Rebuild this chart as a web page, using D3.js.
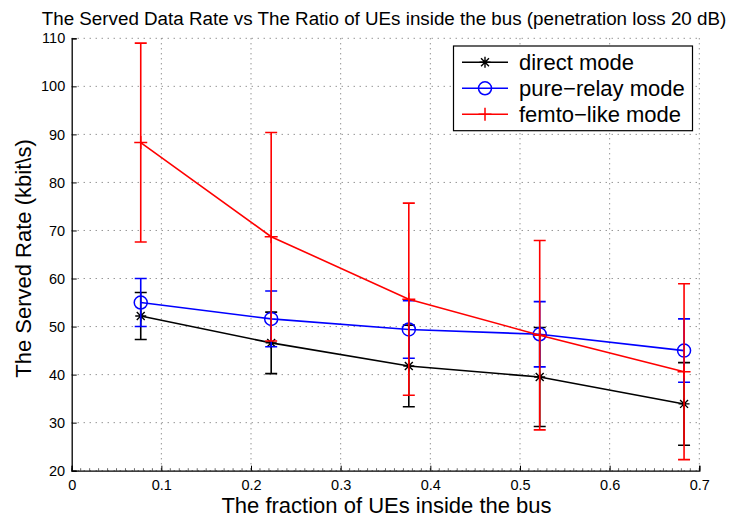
<!DOCTYPE html>
<html>
<head>
<meta charset="utf-8">
<script src="https://cdn.jsdelivr.net/npm/d3@7"></script>
<style>
  html, body { margin: 0; padding: 0; background: #fff; }
  svg { display: block; font-family: "Liberation Sans", Arial, Helvetica, sans-serif; }
</style>
</head>
<body>
<svg id="chart" width="732" height="517"></svg>
<script>
// Fraction of UEs inside the bus (x positions of the measurement points)
const fractions = [0.077, 0.2225, 0.376, 0.522, 0.683];

// Served rate (kbit/s) means and error half-widths per mode
const directMean = [52.2, 46.6, 41.8, 39.5, 33.9];
const directErr  = [4.9, 6.4, 8.5, 10.3, 8.6];
const relayMean  = [55.0, 51.6, 49.4, 48.4, 45.0];
const relayErr   = [5.0, 5.8, 6.0, 6.8, 6.6];
const femtoMean  = [88.3, 68.7, 55.7, 48.2, 40.6];
const femtoErr   = [20.7, 21.7, 20.0, 19.7, 18.3];

const seriesNames = ["direct mode", "pure\u2212relay mode", "femto\u2212like mode"];

const xTicks = [0, 0.1, 0.2, 0.3, 0.4, 0.5, 0.6, 0.7];
const yTicks = [20, 30, 40, 50, 60, 70, 80, 90, 100, 110];

const series = [
  { name: seriesNames[0], mean: directMean, err: directErr, color: "#000000", marker: "star" },
  { name: seriesNames[1], mean: relayMean,  err: relayErr,  color: "#0000ff", marker: "circle" },
  { name: seriesNames[2], mean: femtoMean,  err: femtoErr,  color: "#ff0000", marker: "plus" }
];

const svg = d3.select("#chart");
const plotLeft = 71.7, plotRight = 699.3, plotTop = 38.3, plotBottom = 470.7;

const x = d3.scaleLinear().domain([0, 0.7]).range([plotLeft, plotRight]);
const y = d3.scaleLinear().domain([20, 110]).range([plotBottom, plotTop]);

// Dotted grid
const grid = svg.append("g");
grid.selectAll("line.h").data(yTicks).join("line")
  .attr("x1", plotLeft).attr("x2", plotRight)
  .attr("y1", d => y(d)).attr("y2", d => y(d))
  .attr("stroke", "#666").attr("stroke-width", 1)
  .attr("stroke-dasharray", "1,5");
grid.selectAll("line.v").data(xTicks.slice(1)).join("line")
  .attr("y1", plotTop).attr("y2", plotBottom)
  .attr("x1", d => x(d)).attr("x2", d => x(d))
  .attr("stroke", "#666").attr("stroke-width", 1)
  .attr("stroke-dasharray", "1,4");

// Minor ticks along the bottom axis
const minor = d3.range(0, 71).map(i => i / 100);
svg.append("g").selectAll("line").data(minor).join("line")
  .attr("x1", d => x(d)).attr("x2", d => x(d))
  .attr("y1", plotBottom).attr("y2", plotBottom - 2.5)
  .attr("stroke", "#444").attr("stroke-width", 0.8);

// Axes
const xAxis = d3.axisBottom(x).tickValues(xTicks).tickSize(-5).tickPadding(9)
  .tickFormat(d => d === 0 ? "0" : d3.format(".1f")(d));
const gx = svg.append("g").attr("transform", `translate(0,${plotBottom})`).call(xAxis);
gx.select(".domain").attr("stroke", "#000").attr("stroke-width", 1.3);
gx.selectAll(".tick line").attr("stroke", "#000");
gx.selectAll("text").attr("font-size", 14.5).attr("fill", "#000")
  .attr("font-family", "Liberation Sans, Arial, sans-serif");

const yAxis = d3.axisLeft(y).tickValues(yTicks).tickSize(-5).tickPadding(6.5);
const gy = svg.append("g").attr("transform", `translate(${plotLeft},0)`).call(yAxis);
gy.select(".domain").attr("stroke", "#000").attr("stroke-width", 1.3);
gy.selectAll(".tick line").attr("stroke", "#000");
gy.selectAll("text").attr("font-size", 14.5).attr("fill", "#000")
  .attr("font-family", "Liberation Sans, Arial, sans-serif");

// Marker drawing helper
function drawMarker(g, type, cx, cy, color) {
  if (type === "circle") {
    g.append("circle").attr("cx", cx).attr("cy", cy).attr("r", 6.5)
      .attr("fill", "none").attr("stroke", color).attr("stroke-width", 1.5);
  } else if (type === "plus") {
    const s = 6.5;
    g.append("path").attr("d", `M${cx - s},${cy}H${cx + s}M${cx},${cy - s}V${cy + s}`)
      .attr("stroke", color).attr("stroke-width", 1.5).attr("fill", "none");
  } else if (type === "star") {
    const s = 5.5, d = s * 0.72;
    g.append("path")
      .attr("d", `M${cx - s},${cy}H${cx + s}M${cx},${cy - s}V${cy + s}M${cx - d},${cy - d}L${cx + d},${cy + d}M${cx - d},${cy + d}L${cx + d},${cy - d}`)
      .attr("stroke", color).attr("stroke-width", 1.4).attr("fill", "none");
  }
}

// Series: connecting line, error bars with caps, markers
const capHalf = 6;
series.forEach(s => {
  const g = svg.append("g");
  const pts = fractions.map((f, i) => ({ f, m: s.mean[i], e: s.err[i] }));
  g.append("path")
    .attr("d", d3.line().x(p => x(p.f)).y(p => y(p.m))(pts))
    .attr("fill", "none").attr("stroke", s.color).attr("stroke-width", 1.6);
  pts.forEach(p => {
    const cx = x(p.f), y0 = y(p.m - p.e), y1 = y(p.m + p.e);
    g.append("path")
      .attr("d", `M${cx},${y0}V${y1}M${cx - capHalf},${y0}H${cx + capHalf}M${cx - capHalf},${y1}H${cx + capHalf}`)
      .attr("fill", "none").attr("stroke", s.color).attr("stroke-width", 1.6);
    drawMarker(g, s.marker, cx, y(p.m), s.color);
  });
});

// Title and axis labels
svg.append("text").attr("x", 384).attr("y", 25).attr("text-anchor", "middle")
  .attr("font-size", 18.8).attr("fill", "#000")
  .text("The Served Data Rate vs The Ratio of UEs inside the bus (penetration loss 20 dB)");
svg.append("text").attr("x", 386.5).attr("y", 513).attr("text-anchor", "middle")
  .attr("font-size", 22).attr("fill", "#000")
  .text("The fraction of UEs inside the bus");
svg.append("text").attr("transform", "translate(31,258.5) rotate(-90)")
  .attr("text-anchor", "middle").attr("font-size", 22).attr("fill", "#000")
  .text("The Served Rate (kbit\\s)");

// Legend
const lg = svg.append("g");
lg.append("rect").attr("x", 453.5).attr("y", 46).attr("width", 239).attr("height", 84.7)
  .attr("fill", "#fff").attr("stroke", "#000").attr("stroke-width", 1.2);
series.forEach((s, i) => {
  const ly = 62.3 + i * 26;
  lg.append("line").attr("x1", 462).attr("x2", 508).attr("y1", ly).attr("y2", ly)
    .attr("stroke", s.color).attr("stroke-width", 1.6);
  drawMarker(lg, s.marker, 485, ly, s.color);
  lg.append("text").attr("x", 519).attr("y", ly + 7.7).attr("font-size", 22).attr("fill", "#000")
    .text(s.name);
});
</script>
</body>
</html>
